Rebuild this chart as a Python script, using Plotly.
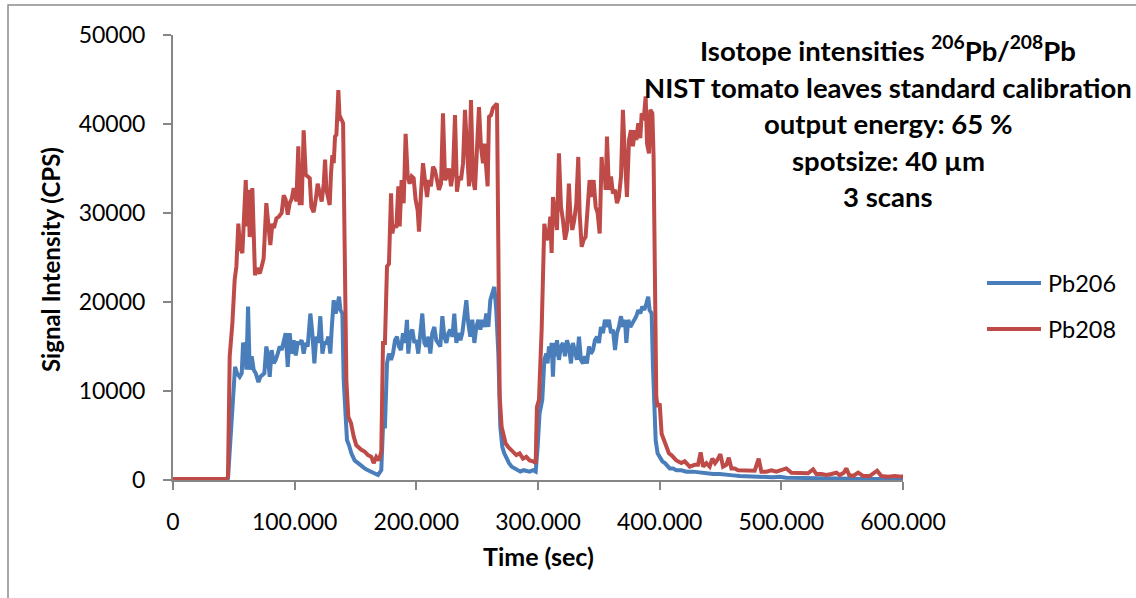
import plotly.graph_objects as go

# ---------------- data ----------------
t_pb206 = [0, 5, 10, 15, 20, 25, 30, 35, 40, 43.9, 45.2, 47.2, 49.3, 51.0, 52.6, 54.8, 56.5, 57.6, 59.2, 60.3,
           61.7, 63.0, 64.7, 66.3, 68.0, 70.2, 71.8, 73.5, 75.1, 76.7, 77.8, 79.5, 81.1, 82.8, 84.4, 86.1, 87.7,
           89.3, 91.0, 92.6, 94.3, 95.9, 97.6, 99.2, 100.9, 102.5, 104.1, 105.8, 107.4, 109.1, 110.7, 112.9,
           114.5, 116.2, 117.8, 119.5, 121.1, 122.8, 124.4, 126.1, 127.7, 129.3, 130.4, 132.1, 133.7, 135.4,
           136.5, 137.6, 139.2, 140.3, 141.4, 143.0, 144.7, 146.6, 149.3, 152.1, 154.8, 157.5, 160.3, 163.0,
           165.8, 168.5, 171.2, 172.6, 174.2, 175.9, 177.5, 179.2, 180.8, 182.5, 184.1, 185.7, 187.4, 189.0,
           190.7, 192.3, 193.4, 195.1, 196.7, 198.4, 200.0, 201.6, 203.3, 204.9, 206.6, 208.2, 209.9, 211.5,
           213.1, 214.8, 216.4, 218.1, 219.7, 221.4, 223.0, 224.7, 226.3, 227.9, 229.6, 231.2, 232.9, 234.5,
           236.2, 237.8, 239.4, 241.1, 242.7, 244.4, 246.0, 247.7, 249.3, 251.0, 252.6, 254.2, 255.9, 257.5,
           259.2, 260.8, 262.5, 264.1, 265.7, 267.4, 269.0, 270.7, 272.3, 274.0, 276.2, 278.4, 280.5, 282.7,
           285.5, 288.2, 291.0, 293.1, 295.9, 298.1, 299.7, 301.3, 303.5, 305.2, 306.8, 307.9, 309.0, 310.1,
           311.2, 312.3, 313.4, 314.5, 315.6, 317.2, 318.9, 320.5, 322.2, 323.8, 325.4, 327.1, 328.7, 330.4,
           332.0, 333.7, 335.3, 337.0, 338.6, 340.2, 341.9, 343.5, 345.2, 346.8, 348.5, 350.1, 351.7, 353.4,
           355.0, 356.7, 358.3, 360.0, 361.6, 363.3, 364.9, 366.5, 368.2, 369.8, 371.5, 372.6, 374.2, 375.9,
           377.5, 379.2, 380.8, 382.4, 384.1, 385.7, 387.4, 389.0, 390.6, 391.7, 393.4, 394.5, 395.6, 396.7,
           398.3, 400.0, 402.2, 404.3, 408.3, 411.0, 413.7, 417.8, 421.9, 427.4, 432.9, 438.4, 443.9, 449.4,
           454.8, 460.3, 465.8, 471.3, 476.8, 482.2, 487.7, 493.2, 498.7, 504.1, 509.6, 515.1, 520.6, 526.1,
           531.5, 537.0, 542.5, 548.0, 553.5, 559.0, 564.4, 569.9, 575.4, 580.9, 586.4, 591.8, 597.3, 601.4]
pb206 = [30, 30, 30, 30, 30, 30, 30, 30, 30, 30, 190, 4900, 8600, 12700, 12000, 11600, 12000, 15400, 15000, 12400,
         19500, 12400, 13900, 12400, 12000, 11000, 11600, 11800, 12000, 15000, 14200, 11600, 14600, 13100, 13500,
         14200, 15000, 14600, 15400, 16500, 12700, 16500, 14200, 15700, 14000, 15400, 15400, 15700, 14200,
         15400, 15000, 18700, 16500, 13100, 16100, 15400, 18400, 14200, 15400, 15400, 16100, 14200, 16900,
         20200, 18700, 20200, 20600, 19100, 18700, 11200, 7500, 4500, 3900, 3000, 2200, 1900, 1500, 1300, 1100,
         940, 750, 560, 1100, 6000, 6000, 13100, 14200, 13500, 14200, 15700, 16100, 15000, 14600, 16500, 15400,
         18000, 14200, 16500, 16900, 15400, 15700, 14200, 16500, 18700, 15400, 15000, 16100, 14200, 16500,
         17200, 15700, 15400, 15000, 18400, 16100, 15400, 16500, 16900, 16100, 18700, 15400, 16500, 15700,
         16500, 18700, 20200, 17600, 16100, 18000, 15400, 17200, 18000, 16900, 18000, 17200, 18700, 17200,
         20200, 21000, 21700, 19100, 14200, 6000, 3700, 3000, 2400, 1900, 1500, 1300, 1100, 940, 1100, 940,
         940, 1100, 940, 3700, 7500, 9000, 13500, 14200, 13100, 15000, 13900, 15400, 11600, 15400, 13900,
         15700, 13500, 15000, 15400, 13900, 15700, 15000, 13100, 15400, 14200, 13500, 16100, 13500, 13100,
         13900, 13100, 15000, 14200, 14600, 15700, 16100, 15400, 17200, 16500, 18000, 17200, 18000, 16500,
         16900, 14600, 16500, 17200, 18400, 17200, 18000, 15400, 18000, 17200, 17600, 18000, 18400, 19100,
         18700, 19500, 19100, 19800, 20600, 19100, 18700, 12700, 7500, 4500, 3000, 2600, 2100, 1900, 1300,
         1300, 1100, 1100, 940, 940, 820, 750, 670, 670, 560, 520, 450, 450, 370, 370, 340, 300, 370, 260,
         260, 220, 220, 190, 190, 190, 150, 150, 150, 150, 110, 150, 110, 110, 110, 110, 110, 110]

t_pb208 = [0, 5, 10, 15, 20, 25, 30, 35, 40, 43.9, 45.2, 46.6, 48.8, 50.7, 52.1, 53.7, 55.1, 57.0, 59.8, 60.8,
           62.0, 63.0, 65.2, 66.6, 67.4, 69.1, 71.3, 72.9, 74.5, 76.7, 78.4, 80.0, 81.7, 83.0, 85.0, 87.1, 89.3,
           91.0, 92.6, 94.3, 95.9, 97.6, 99.2, 100.3, 101.4, 103.0, 104.1, 105.8, 107.4, 109.1, 110.7, 112.4,
           113.7, 115.6, 117.3, 118.9, 120.6, 122.2, 123.9, 125.0, 126.1, 127.7, 128.8, 129.9, 131.0, 132.1,
           133.2, 134.3, 135.9, 137.0, 138.1, 139.8, 141.1, 142.5, 144.1, 146.3, 148.5, 150.7, 154.8, 157.5,
           160.3, 163.0, 164.9, 167.1, 169.3, 171.2, 172.6, 174.2, 175.9, 177.5, 179.2, 180.3, 181.4, 183.6,
           185.2, 186.3, 187.9, 189.6, 191.2, 192.9, 194.5, 196.2, 197.8, 199.4, 201.1, 202.2, 203.8, 205.5,
           207.1, 208.8, 210.4, 212.0, 213.7, 215.3, 217.0, 218.6, 220.3, 221.9, 223.6, 225.2, 226.8, 228.5,
           230.1, 231.8, 233.4, 235.1, 236.7, 238.4, 240.0, 241.6, 243.3, 244.9, 246.6, 248.2, 249.9, 251.5,
           253.1, 254.8, 255.9, 257.5, 258.6, 259.7, 261.4, 263.0, 264.7, 266.3, 267.4, 268.5, 270.1, 271.8,
           273.4, 275.6, 277.8, 280.0, 282.2, 284.9, 287.7, 290.4, 293.1, 295.9, 298.1, 299.1, 300.8, 303.0,
           305.2, 306.8, 308.5, 310.1, 311.2, 312.3, 313.9, 315.6, 317.2, 318.9, 320.5, 322.2, 323.8, 325.4,
           326.5, 328.2, 329.8, 331.5, 333.1, 334.2, 335.9, 337.5, 339.1, 340.8, 342.4, 344.1, 345.7, 347.4,
           349.0, 350.7, 352.3, 353.4, 354.5, 355.6, 356.7, 358.3, 360.0, 361.6, 363.3, 364.9, 366.5, 368.2,
           369.8, 371.5, 373.1, 374.8, 376.4, 378.0, 379.7, 380.8, 382.4, 384.1, 385.2, 386.8, 388.5, 389.6,
           391.2, 392.3, 394.0, 395.0, 396.1, 397.2, 398.3, 400.0, 401.6, 403.3, 405.4, 407.6, 409.6, 413.7,
           417.8, 420.6, 424.7, 428.8, 431.5, 433.7, 435.7, 438.4, 441.1, 443.3, 445.5, 447.2, 449.9, 452.1,
           454.8, 456.8, 459.0, 461.7, 464.4, 468.5, 472.6, 478.1, 481.4, 483.6, 487.7, 491.8, 495.9, 500.0,
           504.1, 508.3, 512.4, 517.8, 521.9, 526.1, 528.8, 532.9, 537.0, 541.1, 545.3, 548.0, 551.3, 553.5,
           555.7, 559.0, 563.1, 567.2, 572.6, 578.7, 582.2, 587.7, 593.2, 598.6, 601.4]
pb208 = [100, 100, 90, 100, 100, 90, 100, 100, 100, 110, 370, 13900, 17600, 22500, 24000, 28800, 26200, 25500,
         33700, 28500, 32600, 27300, 32800, 26200, 23000, 23800, 23200, 24000, 24900, 31100, 28500, 26400,
         28800, 28300, 29400, 29600, 30000, 32000, 31500, 29800, 31100, 31600, 32800, 32200, 31300, 37500,
         31100, 31100, 39300, 34300, 34100, 33900, 30700, 30100, 31500, 33300, 32200, 31300, 33300, 36000,
         32600, 31600, 30900, 34500, 36500, 35600, 38600, 38800, 43800, 40400, 40600, 40100, 22500, 11200,
         7100, 6400, 4900, 3900, 3400, 3200, 2800, 2600, 1900, 2600, 2200, 3200, 15400, 15400, 24000, 24300,
         32200, 27700, 28500, 28500, 33000, 28500, 33700, 31100, 38900, 34100, 33300, 34100, 33900, 31500,
         30300, 27900, 32200, 35600, 33700, 31800, 33700, 33000, 35200, 34800, 33700, 32600, 33300, 41200,
         33700, 34100, 35000, 33000, 34500, 41000, 32400, 34100, 33700, 35600, 41600, 37500, 33000, 42700,
         33700, 32600, 38200, 41900, 37500, 35600, 37800, 35600, 33000, 40800, 41000, 41800, 42100, 42300,
         26200, 9400, 6000, 5200, 4100, 3700, 3400, 3200, 2800, 3000, 2400, 2600, 2200, 2100, 1900, 8200,
         9000, 16900, 28800, 27300, 27000, 29600, 25500, 31800, 29600, 28100, 36700, 30700, 29200, 27000,
         28100, 33300, 30000, 28100, 29200, 31100, 36300, 30000, 26200, 27000, 27300, 30700, 33700, 31800,
         33700, 30700, 30000, 27700, 36300, 33700, 35200, 32600, 38600, 32600, 34100, 32200, 32600, 31100,
         31800, 34100, 41600, 36000, 31800, 38200, 39300, 37500, 39300, 38200, 40100, 38400, 41200, 40400,
         43100, 37800, 36700, 41600, 41200, 36300, 22500, 9400, 8200, 8600, 5200, 4500, 3700, 3000, 2800,
         2200, 1900, 2100, 1500, 1700, 1700, 3100, 1500, 1900, 1500, 2400, 1900, 2200, 2900, 1500, 1700,
         2500, 1300, 1300, 1100, 1100, 1100, 1050, 2400, 940, 940, 1100, 940, 1100, 1300, 820, 820, 750, 750,
         1200, 670, 670, 560, 670, 820, 560, 820, 1300, 560, 450, 820, 450, 450, 1050, 450, 370, 450, 370, 450]

series_names = ["Pb206", "Pb208"]
series_colors = ["#4A7EBB", "#BE4B48"]

x_tickvals = [0, 100, 200, 300, 400, 500, 600]
x_ticktext = ["0", "100.000", "200.000", "300.000", "400.000", "500.000", "600.000"]
y_tickvals = [0, 10000, 20000, 30000, 40000, 50000]
y_ticktext = ["0", "10000", "20000", "30000", "40000", "50000"]

title_lines = [
    "<b>Isotope intensities <sup>206</sup>Pb/<sup>208</sup>Pb</b>",
    "<b>NIST tomato leaves standard calibration</b>",
    "<b>output energy: 65 %</b>",
    "<b>spotsize: 40 µm</b>",
    "<b>3 scans</b>",
]
x_title = "<b>Time (sec)</b>"
y_title = "<b>Signal Intensity (CPS)</b>"

# ---------------- layout helpers (pixel -> paper) ----------------
W, H = 1136, 598
L, R, T, B = 173, 233, 35, 118
PW, PH = W - L - R, H - T - B


def px(x):
    return (x - L) / PW


def py(y):
    return (H - B - y) / PH


FONT = "Lato"
AXIS_GRAY = "#868686"
LINE_W = 4

fig = go.Figure()
fig.add_trace(go.Scatter(x=t_pb206, y=pb206, mode="lines", name=series_names[0],
                         line=dict(color=series_colors[0], width=LINE_W), showlegend=False))
fig.add_trace(go.Scatter(x=t_pb208, y=pb208, mode="lines", name=series_names[1],
                         line=dict(color=series_colors[1], width=LINE_W), showlegend=False))

axis_common = dict(showline=True, linecolor=AXIS_GRAY, linewidth=2, ticks="outside", ticklen=8,
                   tickwidth=2, tickcolor=AXIS_GRAY, showgrid=False, zeroline=False,
                   tickfont=dict(family=FONT, size=23, color="#000000"))

fig.update_layout(
    width=W, height=H,
    margin=dict(l=L, r=R, t=T, b=B, autoexpand=False),
    paper_bgcolor="white", plot_bgcolor="white",
    font=dict(family=FONT, color="#000000"),
    xaxis=dict(range=[0, 600], tickvals=x_tickvals, ticktext=x_ticktext, ticklabelstandoff=12, **axis_common),
    yaxis=dict(range=[0, 50000], tickvals=y_tickvals, ticktext=y_ticktext, ticklabelstandoff=13, **axis_common),
    showlegend=False,
)

# legend (drawn as swatch line + label, like the reference's long legend keys)
legend_y = [283, 329]
for name, color, yy in zip(series_names, series_colors, legend_y):
    fig.add_shape(type="line", xref="paper", yref="paper", x0=px(987), x1=px(1041), y0=py(yy), y1=py(yy),
                  line=dict(color=color, width=LINE_W))
    fig.add_annotation(text=name, xref="paper", yref="paper", x=px(1046), y=py(yy), xanchor="left",
                       yanchor="middle", showarrow=False, font=dict(family=FONT, size=23.5, color="#000000"))

title_y = [48, 87, 124, 160, 196]
for txt, yy in zip(title_lines, title_y):
    fig.add_annotation(text=txt, xref="paper", yref="paper", x=px(888), y=py(yy), xanchor="center",
                       yanchor="middle", showarrow=False, font=dict(family=FONT, size=27.5, color="#000000"))

fig.add_annotation(text=x_title, xref="paper", yref="paper", x=px(538), y=py(556), xanchor="center",
                   yanchor="middle", showarrow=False, font=dict(family=FONT, size=25, color="#000000"))
fig.add_annotation(text=y_title, xref="paper", yref="paper", x=px(50), y=py(260), xanchor="center",
                   yanchor="middle", textangle=-90, showarrow=False,
                   font=dict(family=FONT, size=24, color="#000000"))

# outer chart border (partly outside the visible window, as in the reference)
fig.add_shape(type="rect", xref="paper", yref="paper", x0=px(8), x1=px(1300), y0=py(800), y1=py(5),
              line=dict(color="#8C8C8C", width=1.5), fillcolor="rgba(0,0,0,0)", layer="below")

fig.write_html("out.html")
